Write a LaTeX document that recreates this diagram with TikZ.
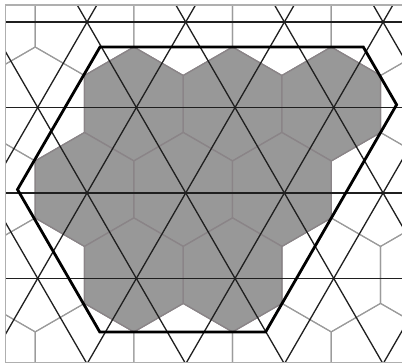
\documentclass[tikz,border=0pt]{standalone}
\definecolor{hexgray}{RGB}{155,155,155}
\definecolor{fillgray}{RGB}{152,152,152}
\definecolor{filledge}{RGB}{138,132,135}
\definecolor{framegray}{RGB}{175,175,175}
\begin{document}
\begin{tikzpicture}[x=1bp,y=-1bp,
  latline/.style={line width=1.3bp, color=black!88},
  hexedge/.style={line width=1.1bp, color=hexgray, line join=miter},
  hexfill/.style={fill=fillgray, draw=filledge, line width=1.3bp},
  outline/.style={line width=2.8bp, black, line join=miter},
  framel/.style={line width=1.2bp, color=framegray}]
\def\s{98.67}
\def\h{85.45}
\def\r{56.97}
\useasboundingbox (0,0) rectangle (402,363);
\fill[white] (0,0) rectangle (402,363);
\begin{scope}
  \clip (5.5,5) rectangle (402,362.3);
  % hexagonal grid
  \foreach \j in {-1,...,5}{
    \foreach \i in {-1,...,4}{
      \pgfmathsetmacro{\cx}{37.7 + (1-mod(\j+2,2))*\s/2 + \i*\s - 2.5}
      \pgfmathsetmacro{\cy}{22.05 + \j*\h - 3.5}
      \draw[hexedge] (\cx,\cy-\r) -- ++(\s/2,\r/2) -- ++(0,\r) -- ++(-\s/2,\r/2)
        -- ++(-\s/2,-\r/2) -- ++(0,-\r) -- cycle;
    }
  }
  % filled cells
  \foreach \j/\i in {1/1,1/2,1/3,2/0,2/1,2/2,3/1,3/2}{
    \pgfmathsetmacro{\cx}{37.7 + (1-mod(\j+2,2))*\s/2 + \i*\s - 2.5}
    \pgfmathsetmacro{\cy}{22.05 + \j*\h - 3.5}
    \filldraw[hexfill] (\cx,\cy-\r) -- ++(\s/2,\r/2) -- ++(0,\r) -- ++(-\s/2,\r/2)
      -- ++(-\s/2,-\r/2) -- ++(0,-\r) -- cycle;
  }
  % triangular lattice
  \foreach \j in {0,...,4}{
    \pgfmathsetmacro{\yy}{22.05+\j*\h}
    \draw[latline] (0,\yy) -- (402,\yy);
  }
  \foreach \i in {-3,...,6}{
    \pgfmathsetmacro{\xx}{37.7+\i*\s}
    \draw[latline] (\xx+73.61,-20) -- (\xx-157.33,380);
    \draw[latline] (\xx-73.61,-20) -- (\xx+157.33,380);
  }
\end{scope}
% enclosing hexagon
\draw[outline] (100,47) -- (363.3,47) -- (396.6,104.7) -- (265.6,332)
  -- (99.8,332) -- (17.5,189.5) -- cycle;
% frame
\draw[framel] (403,5) -- (5.5,5) -- (5.5,362.3) -- (403,362.3);
\end{tikzpicture}
\end{document}
